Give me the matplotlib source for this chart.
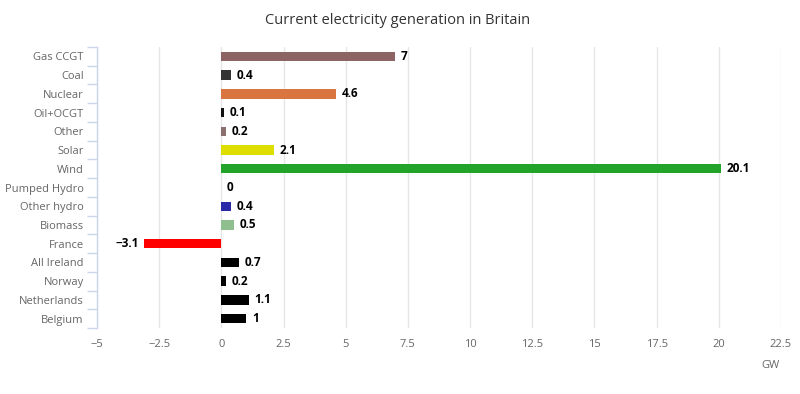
import matplotlib
matplotlib.use("Agg")
import matplotlib.pyplot as plt
import numpy as np

categories = ["Gas CCGT", "Coal", "Nuclear", "Oil+OCGT", "Other", "Solar", "Wind",
              "Pumped Hydro", "Other hydro", "Biomass", "France", "All Ireland",
              "Norway", "Netherlands", "Belgium"]
values = [7, 0.4, 4.6, 0.1, 0.2, 2.1, 20.1, 0, 0.4, 0.5, -3.1, 0.7, 0.2, 1.1, 1]
labels = ["7", "0.4", "4.6", "0.1", "0.2", "2.1", "20.1", "0", "0.4", "0.5",
          "\u22123.1", "0.7", "0.2", "1.1", "1"]
colors = ["#8b6463", "#333333", "#d9763f", "#111111", "#8b7070", "#dddd00", "#22a32a",
          "#3366cc", "#2a2aa8", "#8fbf8f", "#ff0000", "#000000", "#000000",
          "#000000", "#000000"]
xticks = [-5, -2.5, 0, 2.5, 5, 7.5, 10, 12.5, 15, 17.5, 20, 22.5]
xticklabels = ["\u22125", "\u22122.5", "0", "2.5", "5", "7.5", "10", "12.5", "15",
               "17.5", "20", "22.5"]

plt.rcParams['font.family'] = ['Open Sans', 'DejaVu Sans']

fig = plt.figure(figsize=(8, 3.94), dpi=100)
W, H = 800, 394
ax = fig.add_axes([97 / W, 1 - 328 / H, (781 - 97) / W, (328 - 47) / H])

y = np.arange(len(categories))
ax.barh(y, values, height=0.5, color=colors, zorder=3)
for yi, v, lab in zip(y, values, labels):
    if v >= 0:
        ax.annotate(lab, (v, yi), xytext=(4, 0), textcoords="offset points",
                    ha="left", va="center", fontsize=8.5, fontweight="bold", color="#000000")
    else:
        ax.annotate(lab, (v, yi), xytext=(-4, 0), textcoords="offset points",
                    ha="right", va="center", fontsize=8.5, fontweight="bold", color="#000000")

ax.set_xlim(-5, 22.5)
ax.set_ylim(len(categories) - 0.5, -0.5)
ax.set_xticks(xticks)
ax.set_xticklabels(xticklabels, fontsize=8, color="#666666")
ax.tick_params(axis="x", length=0, pad=8)
ax.set_yticks(y)
ax.set_yticklabels(categories, fontsize=8, color="#666666")
ax.tick_params(axis="y", which="major", length=0, pad=9.5)
ax.set_yticks(np.arange(-0.5, len(categories) + 0.5, 1), minor=True)
ax.tick_params(axis="y", which="minor", length=7.5, color="#ccd6eb", width=1)
ax.grid(axis="x", color="#e6e6e6", linewidth=1, zorder=0)
for s in ["top", "right", "bottom"]:
    ax.spines[s].set_visible(False)
ax.spines["left"].set_color("#ccd6eb")
ax.spines["left"].set_linewidth(1)

fig.text(398 / W, 1 - 20 / H, "Current electricity generation in Britain",
         ha="center", va="center", fontsize=10.5, color="#333333")
fig.text(771 / W, 1 - 366 / H, "GW", ha="center", va="center", fontsize=8, color="#666666")

fig.savefig("out.png", dpi=100, facecolor="white")
